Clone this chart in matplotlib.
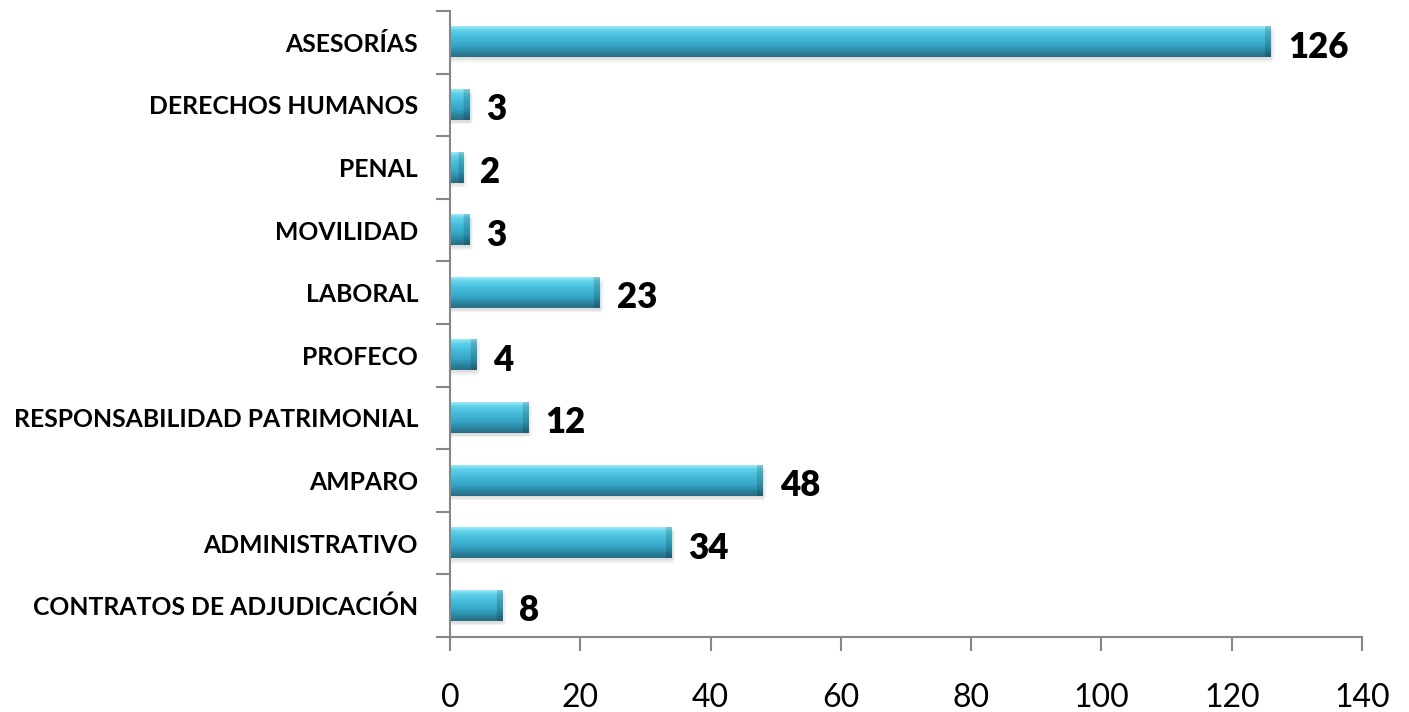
import matplotlib
matplotlib.use("Agg")
import matplotlib.pyplot as plt
import numpy as np
from matplotlib.patches import Rectangle

categories = ["CONTRATOS DE ADJUDICACIÓN", "ADMINISTRATIVO", "AMPARO",
              "RESPONSABILIDAD PATRIMONIAL", "PROFECO", "LABORAL",
              "MOVILIDAD", "PENAL", "DERECHOS HUMANOS", "ASESORÍAS"]
values = [8, 34, 48, 12, 4, 23, 3, 2, 3, 126]
x_ticks = [0, 20, 40, 60, 80, 100, 120, 140]

plt.rcParams['font.family'] = ['Lato', 'DejaVu Sans']

fig = plt.figure(figsize=(14.09, 7.12), dpi=100)
ax = fig.add_axes([450/1409, 1-637/712, 912/1409, 626/712])

ypos = np.arange(len(categories))
bh = 0.48

# vertical gradient (top -> bottom)
stops = np.array([0.0, 0.12, 0.35, 0.65, 0.88, 1.0])
cols = np.array([[0x9a, 0xea, 0xf7], [0x62, 0xd2, 0xea], [0x45, 0xbd, 0xda],
                 [0x36, 0xa4, 0xc4], [0x27, 0x7e, 0x99], [0x2a, 0x6e, 0x84]]) / 255.0
nrow = 40
t = np.linspace(0, 1, nrow)
grad = np.stack([np.interp(t, stops, cols[:, k]) for k in range(3)], axis=1)

px_per_unit = 912 / 140
for y, v in zip(ypos, values):
    # shadow
    for i, a in enumerate([0.05, 0.07, 0.09]):
        off = 0.03 + 0.02 * i
        ax.add_patch(Rectangle((0, y - bh/2 - off), v + 0.6 - 0.2*i, bh,
                               facecolor='#606060', alpha=a, edgecolor='none', zorder=1))
    ncol = max(int(v * px_per_unit), 4)
    img = np.repeat(grad[:, None, :], ncol, axis=1).copy()
    capw = min(6, ncol // 3 + 1)
    img[:, -capw:, :] *= 0.85
    ax.imshow(img, extent=(0, v, y - bh/2, y + bh/2), aspect='auto',
              origin='upper', interpolation='bilinear', zorder=2)
    ax.text(v + 2.6, y - 0.08, str(v), ha='left', va='center',
            fontsize=25, fontweight='heavy', color='black', zorder=3)

ax.set_xlim(0, 140)
ax.set_ylim(-0.5, len(categories) - 0.5)
ax.set_aspect('auto')

ax.set_xticks(x_ticks)
ax.set_xticklabels([str(x) for x in x_ticks], fontsize=23)
ax.tick_params(axis='x', length=10, width=1.5, color='#868686', pad=23, direction='out')

ax.set_yticks(ypos)
ax.set_yticklabels(categories, fontsize=17.8, fontweight='bold')
ax.tick_params(axis='y', which='major', length=0, pad=23)
ax.set_yticks(np.arange(-0.5, len(categories)), minor=True)
ax.tick_params(axis='y', which='minor', length=10, width=1.5, color='#868686', direction='out')

for s in ['top', 'right']:
    ax.spines[s].set_visible(False)
for s in ['left', 'bottom']:
    ax.spines[s].set_color('#868686')
    ax.spines[s].set_linewidth(1.5)

fig.savefig("out.png", dpi=100, facecolor='white')
